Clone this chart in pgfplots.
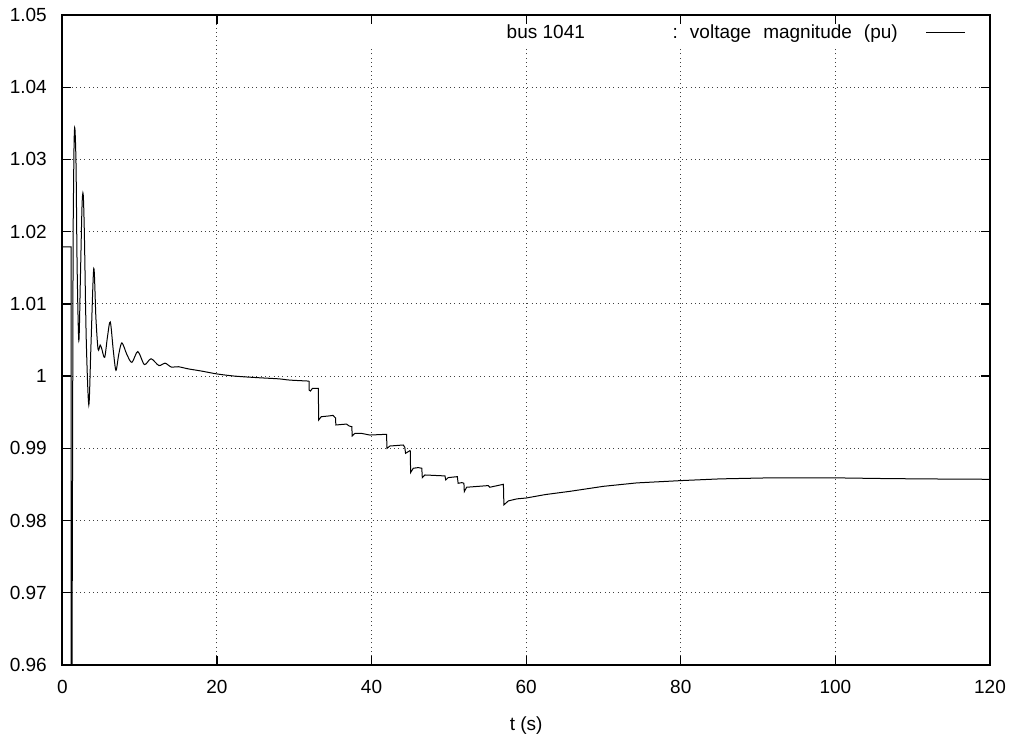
\documentclass[border=0pt]{standalone}
\usepackage{fontspec}
\setmainfont{Liberation Sans}
\usepackage{pgfplots}
\pgfplotsset{compat=1.18}
\tikzset{gridline/.style={black!75,line width=1pt,dash pattern=on 1pt off 3.3pt}}
\begin{document}
\fontsize{19}{22}\selectfont
\begin{tikzpicture}
\begin{axis}[
  at={(0pt,0pt)}, anchor=south west,
  width=927.7pt, height=650pt, scale only axis,
  xmin=0, xmax=120, ymin=0.96, ymax=1.05,
  xtick={0,20,40,60,80,100,120},
  ytick={0.96,0.97,0.98,0.99,1,1.01,1.02,1.03,1.04,1.05},
  /pgf/number format/assume math mode=true,
  yticklabel style={/pgf/number format/fixed,/pgf/number format/precision=2,xshift=-9pt},
  xticklabel style={yshift=-9pt},
  tick align=inside,
  major tick length=9pt,
  every tick/.style={black,line width=1.3pt},
  axis line style={line width=1.6pt},
  xlabel={t (s)},
  xlabel style={at={(axis description cs:0.5,0)},anchor=base,yshift=-66pt},
  legend plot pos=right,
  legend style={draw=none,fill=none,at={(axis description cs:0.9741,0.9723)},anchor=east,inner sep=0pt,column sep=28pt,nodes={inner sep=0pt}},
  legend image code/.code={\draw[#1] (0pt,0pt) -- (39pt,0pt);},
]
% grid (vertical lines stop below the key)
\draw[gridline] (axis cs:20,0.9612) -- (axis cs:20,1.0488);
\draw[gridline] (axis cs:40,0.9612) -- (axis cs:40,1.0457);
\draw[gridline] (axis cs:60,0.9612) -- (axis cs:60,1.0457);
\draw[gridline] (axis cs:80,0.9612) -- (axis cs:80,1.0457);
\draw[gridline] (axis cs:100,0.9612) -- (axis cs:100,1.0457);
\draw[gridline] (axis cs:1.2,0.97) -- (axis cs:118.8,0.97);
\draw[gridline] (axis cs:1.2,0.98) -- (axis cs:118.8,0.98);
\draw[gridline] (axis cs:1.2,0.99) -- (axis cs:118.8,0.99);
\draw[gridline] (axis cs:1.2,1.00) -- (axis cs:118.8,1.00);
\draw[gridline] (axis cs:1.2,1.01) -- (axis cs:118.8,1.01);
\draw[gridline] (axis cs:1.2,1.02) -- (axis cs:118.8,1.02);
\draw[gridline] (axis cs:1.2,1.03) -- (axis cs:118.8,1.03);
\draw[gridline] (axis cs:1.2,1.04) -- (axis cs:118.8,1.04);
% pre-fault, fault and recovery edge
\addplot[black,line width=1pt] coordinates {
(0,1.0179) (1.13,1.0179) (1.135,0.85) (1.2,0.85) (1.26,0.96) (1.40,1.02)
};
\addlegendentry{bus 1041\hspace{87.8pt}:\hspace{12pt}voltage\hspace{12pt}magnitude\hspace{12pt}(pu)}
% electromechanical oscillations
\addplot[black,line width=1pt,smooth,forget plot] coordinates {
(1.40,1.02) (1.52,1.032) (1.63,1.0343) (1.78,1.029) (1.92,1.015) (2.14,1.0049) (2.35,1.014)
(2.55,1.0235) (2.7,1.0252) (2.85,1.020) (3.1,1.005) (3.43,0.9960) (3.7,1.004) (4.07,1.0149)
(4.35,1.008) (4.63,1.0037) (4.9,1.0043) (5.1,1.0038) (5.48,1.0026) (5.85,1.0055) (6.21,1.0075)
(6.6,1.0035) (6.94,1.0008) (7.3,1.003) (7.71,1.0046) (8.35,1.0030) (9.0,1.0019) (9.77,1.0034)
(10.62,1.0016) (11.48,1.0024) (12.5,1.00146) (13.28,1.0018) (14.1,1.00125) (15.0,1.0013)
(16.3,1.0010) (18,1.0007) (20,1.0003) (22.3,1.0000) (25,0.9998) (28,0.99962) (29.4,0.99945)
(31.92,0.99931)
};
% tap-changer steps and slow recovery
\addplot[black,line width=1pt,forget plot] coordinates {
(31.92,0.99931) (31.93,0.99806) (32.1,0.99793) (32.35,0.99829) (33.12,0.99829) (33.16,0.99392)
(33.5,0.99438) (34.38,0.99447) (35.03,0.99456) (35.25,0.99429) (35.35,0.99420) (35.38,0.99323)
(36.76,0.99336) (37.1,0.99309) (37.45,0.99300) (37.5,0.99171) (37.84,0.99207) (38.7,0.99207)
(39.78,0.99184) (41.94,0.99194) (42.0,0.99) (42.38,0.99032) (44.1,0.99046) (44.3,0.99014)
(44.4,0.98931) (44.97,0.98968) (45.02,0.98960) (45.05,0.98664) (45.4,0.98724) (46.05,0.98733)
(46.5,0.98724) (46.57,0.98594) (46.9,0.98631) (49.5,0.98618) (49.6,0.98562) (49.9,0.98594)
(51.1,0.98608) (51.2,0.98516) (51.7,0.98525) (51.95,0.98516) (52.0,0.98401) (52.3,0.98461)
(55.1,0.98484) (55.3,0.98461) (57.06,0.98502) (57.12,0.98217) (57.7,0.98272) (58.8,0.98300)
(60.0,0.98312) (62.5,0.98360) (65.7,0.98405) (70,0.98474) (74.3,0.98521) (80,0.98553) (85.1,0.98577)
(91.5,0.98591) (100,0.98591) (106.6,0.98581) (112,0.98576) (118.7,0.98572) (120,0.98571)
};
\end{axis}
\pgfresetboundingbox
\useasboundingbox (-62.3pt,-68pt) rectangle (953.7pt,665pt);
\end{tikzpicture}
\end{document}
